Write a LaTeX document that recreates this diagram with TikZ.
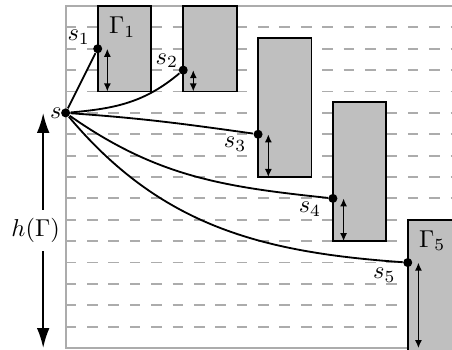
\documentclass[tikz,border=0pt]{standalone}
\usepackage{amsmath}
\usetikzlibrary{arrows.meta}

\begin{document}
\begin{tikzpicture}[x=0.308cm,y=0.308cm,
    blk/.style={draw=black,line width=0.8pt,fill=gray!50},
    grid/.style={gray!65,line width=0.75pt,dash pattern=on 0.154cm off 0.154cm},
    pt/.style={circle,fill=black,inner sep=0pt,minimum size=3.7pt},
    walk/.style={line width=0.75pt},
    lbl/.style={inner sep=0pt},
    hgt/.style={{Latex[length=3.3pt,width=2.9pt]}-{Latex[length=3.3pt,width=2.9pt]},line width=0.6pt}]
  \useasboundingbox (-3.07,0.28) rectangle (18.07,-16.05);
  \clip (-3.07,0.28) rectangle (18.07,-16.05);

  % Height of Gamma
  \draw[{Latex[length=8.2pt,width=5.2pt]}-{Latex[length=8.2pt,width=5.2pt]},line width=0.85pt]
    (-1.05,-5) -- (-1.05,-16) node[midway,fill=white,xshift=-3.1pt] (hg) {$h(\Gamma)$};

  % Rows
  \foreach \r in {1,...,15}
    \draw[grid] (0,-\r) -- (19,-\r);
  \draw[gray!65,line width=0.85pt] (19,0) -- (0,0) -- (0,-16) -- (19,-16);

  % Blocks
  \draw[blk] (1.5,0) rectangle (4,-4);
  \draw[blk] (5.5,0) rectangle (8,-4);
  \draw[blk] (9,-1.5) rectangle (11.5,-8);
  \draw[blk] (12.5,-4.5) rectangle (15,-11);
  \draw[blk] (16,-10) rectangle (18.5,-16.5);
  \node[lbl,anchor=north west,xshift=4.5pt,yshift=-4.4pt] (g1) at (1.5,0) {$\Gamma_1$};
  \node[lbl,anchor=north west,xshift=4.5pt,yshift=-4.2pt] (g5) at (16,-10) {$\Gamma_5$};

  % Heights inside blocks
  \draw[hgt] (1.95,-2) -- (1.95,-4);
  \draw[hgt] (5.97,-3) -- (5.97,-4);
  \draw[hgt] (9.48,-6) -- (9.48,-8);
  \draw[hgt] (13,-9) -- (13,-11);
  \draw[hgt] (16.5,-12) -- (16.5,-16);

  % Points
  \node[pt] (s) at (0,-5) {};
  \node[pt] (s1) at (1.5,-2) {};
  \node[pt] (s2) at (5.5,-3) {};
  \node[pt] (s3) at (9,-6) {};
  \node[pt] (s4) at (12.5,-9) {};
  \node[pt] (s5) at (16,-12) {};
  \node[lbl,anchor=east,xshift=-1.5pt] (ls) at (s) {$s$};
  \node[lbl,anchor=south east,xshift=-3pt,yshift=1.6pt] (ls1) at (s1) {$s_1$};
  \node[lbl,anchor=south east,xshift=-1.9pt,yshift=0.7pt] (ls2) at (s2) {$s_2$};
  \node[lbl,anchor=north east,xshift=-4.6pt,yshift=-1.1pt] (ls3) at (s3) {$s_3$};
  \node[lbl,anchor=north east,xshift=-4.6pt,yshift=-1.4pt] (ls4) at (s4) {$s_4$};
  \node[lbl,anchor=north east,xshift=-4.8pt,yshift=-2pt] (ls5) at (s5) {$s_5$};

  % Paths from s
  \draw[walk] (s) -- (s1);
  \draw[walk] (s) to[out=5,in=220] (s2);
  \draw[walk] (s) to[out=-4,in=172] (s3);
  \draw[walk] (s) to[out=-35,in=174] (s4);
  \draw[walk] (s) to[out=-50,in=176] (s5);
\end{tikzpicture}
\end{document}
